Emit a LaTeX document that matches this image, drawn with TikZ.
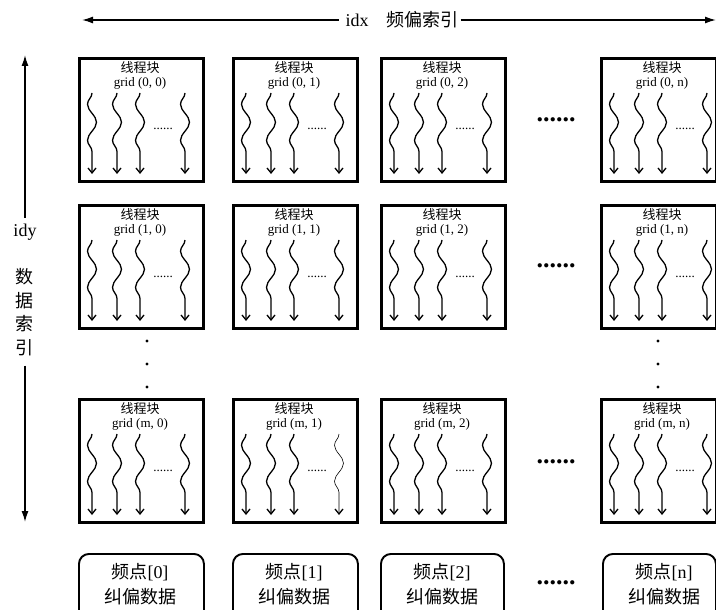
\documentclass[tikz,border=0pt]{standalone}
\usepackage{fontspec}
\setmainfont{Liberation Serif}
\newfontfamily\cjk{Noto Sans CJK SC}
\usetikzlibrary{arrows.meta,decorations.pathmorphing}
\begin{document}
\begin{tikzpicture}[x=1pt,y=-1pt,
  gridbox/.style={draw, line width=2.7pt, inner sep=0pt, minimum height=123pt, anchor=north west},
  datbox/.style={draw, line width=1.9pt, rounded corners=10pt, inner sep=0pt, minimum height=90pt, anchor=north west},
  ttl/.style={font=\cjk\fontsize{13}{14}\selectfont, inner sep=0pt},
  gtxt/.style={font=\fontsize{13}{14}\selectfont, inner sep=0pt},
  dtxt/.style={font=\fontsize{18}{25}\selectfont, align=center, inner sep=0pt},
  hdots/.style={font=\bfseries\fontsize{26}{26}\selectfont, anchor=base, inner sep=0pt},
  axlab/.style={font=\fontsize{18}{23.5}\selectfont, align=center, inner sep=0pt},
  axis/.style={line width=1.4pt},
  wave/.style={line width=1.3pt, decorate,
    decoration={snake, mirror, segment length=36pt, amplitude=4.5pt, post length=5pt},
    -{Straight Barb[length=5pt,width=8pt,line width=1.3pt]}},
  lwm1/.style={line width=0.6pt}
]
\useasboundingbox (0,0) rectangle (716,610);
\clip (0,0) rectangle (716,610);

% top axis
\coordinate (xl) at (82,20);
\coordinate (xr) at (716,20);
\node[axlab] (xlab) at (402,20) {idx\quad{\cjk 频偏索引}};
\draw[axis, {Latex[length=11pt,width=7pt]}-] (xl) -- ([xshift=-6pt]xlab.west);
\draw[axis, -{Latex[length=11pt,width=7pt]}] ([xshift=2pt]xlab.east) -- (xr);

% left axis
\coordinate (yt) at (25,55);
\coordinate (yb) at (25,522);
\node[axlab] (ylab) at (25,232) {idy};
\node[axlab] (yname) at (25,312) {\cjk 数\\\cjk 据\\\cjk 索\\\cjk 引};
\draw[axis, {Latex[length=11pt,width=7pt]}-] (yt) -- ([yshift=6pt]ylab.north);
\draw[axis, -{Latex[length=11pt,width=7pt]}] ([yshift=-10pt]yname.south) -- (yb);

% grid blocks
\foreach \c/\x/\w in {0/78/124, 1/232/124, 2/380/124, n/600/115}{
  \foreach \r/\y in {0/57, 1/204, m/398}{
    \node[gridbox, minimum width=\w pt] (b\r\c) at (\x,\y) {};
    \node[ttl] (t\r\c) at (\x+62,\y+11) {线程块};
    \node[gtxt] (g\r\c) at (\x+62,\y+26) {grid (\r, \c)};
    \foreach \dx in {14,39,62}{
      \draw[wave] (\x+\dx,\y+36) -- (\x+\dx,\y+117);
    }
    \draw[wave, lw\r\c/.try] (\x+107,\y+36) -- (\x+107,\y+117);
    \node[gtxt, anchor=base] (d\r\c) at (\x+85,\y+73) {......};
  }
}

% data boxes
\foreach \c/\x/\w in {0/78/125, 1/232/125, 2/380/123, n/602/113}{
  \node[datbox, minimum width=\w pt] (p\c) at (\x,553) {};
  \node[dtxt] (q\c) at (\x+62,584.5) {{\cjk 频点}[\c]\\{\cjk 纠偏数据}};
}

% horizontal ellipses
\foreach \yy/\nm in {120/0, 266/1, 462/m, 583/d}{
  \node[hdots] (h\nm) at (556,\yy+1.5) {......};
}

% vertical ellipses
\foreach \xx in {147,658}{
  \foreach \yy in {341,364,387}{
    \fill (\xx,\yy) circle (1.7);
  }
}
\end{tikzpicture}
\end{document}
